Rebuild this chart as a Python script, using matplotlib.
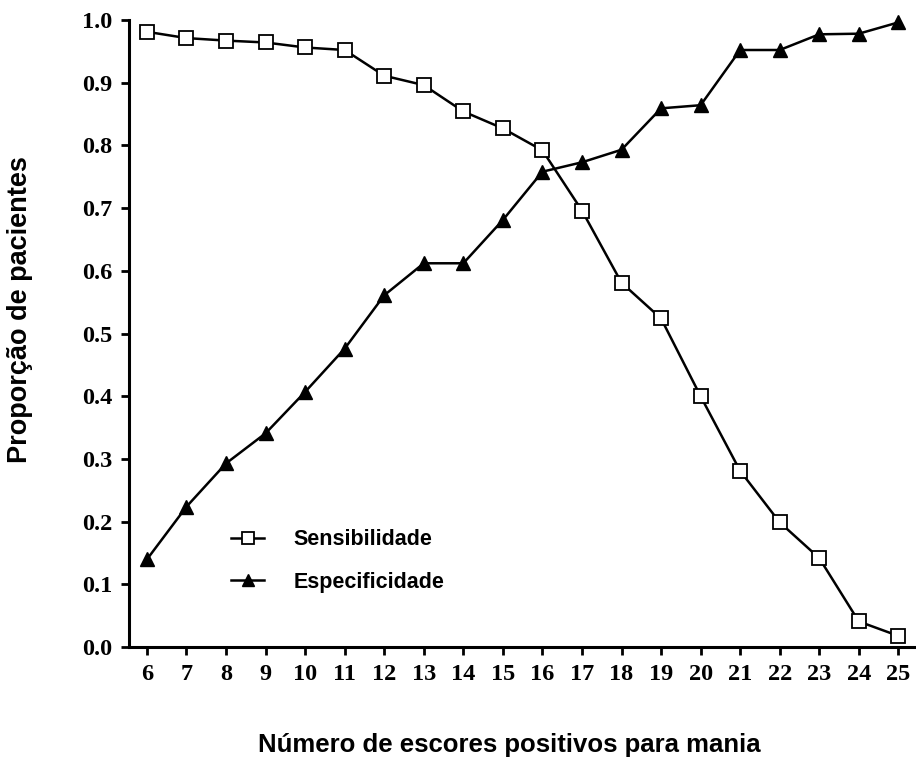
import numpy as np
import matplotlib
matplotlib.use('Agg')
import matplotlib.pyplot as plt

escores = list(range(6, 26))
sensibilidade = [0.981, 0.971, 0.967, 0.964, 0.956, 0.952, 0.911, 0.896, 0.854, 0.827,
                 0.792, 0.696, 0.581, 0.524, 0.400, 0.281, 0.199, 0.142, 0.041, 0.018]
especificidade = [0.140, 0.224, 0.293, 0.341, 0.407, 0.476, 0.561, 0.612, 0.612, 0.681,
                  0.758, 0.773, 0.793, 0.859, 0.864, 0.952, 0.952, 0.977, 0.978, 0.996]
yticks = [0.0, 0.1, 0.2, 0.3, 0.4, 0.5, 0.6, 0.7, 0.8, 0.9, 1.0]

fig = plt.figure(figsize=(9.16, 7.65), dpi=100)
ax = fig.add_axes([0.141, 0.154, 0.857, 0.820])

ax.plot(escores, sensibilidade, color='black', lw=1.8, marker='s', ms=10,
        mfc='white', mec='black', mew=1.3, clip_on=False, label='Sensibilidade', zorder=3)
ax.plot(escores, especificidade, color='black', lw=1.8, marker='^', ms=10,
        mfc='black', mec='black', clip_on=False, label='Especificidade', zorder=3)

ax.set_xlim(5.55, 25.4)
ax.set_ylim(0, 1.0)
ax.set_xticks(escores)
ax.set_yticks(yticks)
ax.set_yticklabels(['%.1f' % v for v in yticks])

for side in ['top', 'right']:
    ax.spines[side].set_visible(False)
for side in ['left', 'bottom']:
    ax.spines[side].set_linewidth(2.2)

ax.tick_params(direction='out', length=6, width=2, pad=6)
for lab in ax.get_xticklabels() + ax.get_yticklabels():
    lab.set_fontfamily('Liberation Serif')
    lab.set_fontweight('bold')
    lab.set_fontsize(17.5)

fig.text(0.022, 0.595, 'Proporção de pacientes', rotation=90, ha='center', va='center',
         family='Liberation Sans', weight='bold', fontsize=19.5)
fig.text(0.556, 0.026, 'Número de escores positivos para mania', ha='center', va='center',
         family='Liberation Sans', weight='bold', fontsize=18.5)

leg = ax.legend(loc='center left', bbox_to_anchor=(0.105, 0.137), frameon=False,
                prop={'family': 'Liberation Sans', 'weight': 'bold', 'size': 15.5},
                handlelength=1.55, handletextpad=1.35, labelspacing=1.0, markerscale=0.9)

fig.savefig('out.png', dpi=100)
